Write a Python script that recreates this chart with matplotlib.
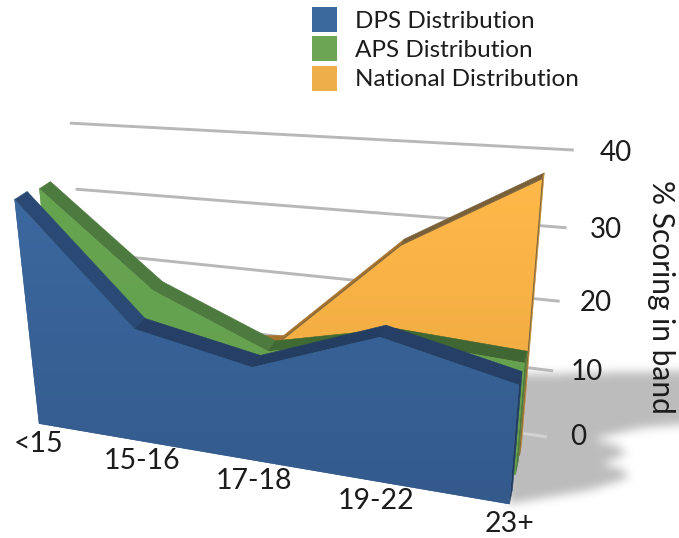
import numpy as np
import matplotlib
matplotlib.use("Agg")
import matplotlib.pyplot as plt
from matplotlib.patches import Patch, Polygon
from matplotlib.path import Path
from matplotlib.transforms import Transform

# Score bands and the share of students in each band
bands = ["<15", "15-16", "17-18", "19-22", "23+"]
dps_share = [34.2, 17.3, 14.0, 20.5, 16.5]
aps_share = [33.5, 20.0, 13.0, 17.0, 16.0]
national_share = [8.0, 10.0, 12.0, 28.0, 38.0]
value_ticks = [0, 10, 20, 30, 40]
series_names = ["DPS Distribution", "APS Distribution", "National Distribution"]

plt.rcParams["font.family"] = ["Lato", "DejaVu Sans"]
TEXT = "#1c1c1c"

# Camera calibration: (band, value, depth) -> canvas position
camera_refs = [
    (0, 0, 0, 40, 423), (1, 0, 0, 142, 441), (2, 0, 0, 253, 460),
    (3, 0, 0, 376, 482), (4, 0, 0, 510, 505),
    (0, 40, 1, 70, 122), (0, 0, 1, 91, 372),
    (4, 40, 1, 548, 150), (4, 0, 1, 524, 430),
    (4, 0, 0.67, 520, 457),
]


def fit_camera(refs):
    rows = []
    for x, v, d, u, w in refs:
        p = [x, v, d, 1.0]
        rows.append(p + [0, 0, 0, 0] + [-u * c for c in p])
        rows.append([0, 0, 0, 0] + p + [-w * c for c in p])
    return np.linalg.svd(np.array(rows, float))[2][-1].reshape(3, 4)


CAMERA = fit_camera(camera_refs)


def project(x, v, d):
    x, v, d = np.broadcast_arrays(np.asarray(x, float), np.asarray(v, float), np.asarray(d, float))
    h = CAMERA @ np.stack([x, v, d, np.ones_like(x)])
    return np.column_stack([h[0] / h[2], h[1] / h[2]])


class DepthPlane(Transform):
    """Maps (band, value) on a plane of constant depth to canvas coordinates."""
    input_dims = 2
    output_dims = 2

    def __init__(self, plane_depth):
        super().__init__()
        self.plane_depth = plane_depth

    def transform_non_affine(self, values):
        values = np.asarray(values, float)
        return project(values[:, 0], values[:, 1], self.plane_depth)


fig = plt.figure(figsize=(6.79, 5.38), dpi=100, facecolor="white")
ax = fig.add_axes([0, 0, 1, 1])
ax.set_xlim(0, 679)
ax.set_ylim(538, 0)
ax.axis("off")
ax.set_autoscale_on(False)


def blurred_shadow(outline, colour=(0.74, 0.74, 0.74), radius=4, passes=3):
    xx, yy = np.meshgrid(np.arange(-40, 720) + 0.5, np.arange(-40, 580) + 0.5)
    inside = Path(outline).contains_points(np.column_stack([xx.ravel(), yy.ravel()]))
    mask = inside.reshape(xx.shape).astype(float)
    kernel = np.ones(2 * radius + 1) / (2 * radius + 1)
    for _ in range(passes):
        mask = np.apply_along_axis(np.convolve, 0, mask, kernel, mode="same")
        mask = np.apply_along_axis(np.convolve, 1, mask, kernel, mode="same")
    rgba = np.zeros(mask.shape + (4,))
    rgba[..., :3] = colour
    rgba[..., 3] = np.clip(mask, 0, 1)
    ax.imshow(rgba, extent=(-40, 720, 580, -40), zorder=1, interpolation="bilinear", aspect="auto")


# Soft shadow cast on the ground to the right of the chart
blurred_shadow([
    (500, 375), (720, 370), (720, 421), (640, 428), (594, 439), (620, 447), (626, 454),
    (602, 464), (624, 470), (628, 478), (590, 490), (508, 504),
])

# Value gridlines on the back wall, carried past the last band to the tick labels
GRID_END = 4.18
for tick in value_ticks:
    colour = "#d2d2d2" if tick == 0 else "#b8b8b8"
    ax.plot([0, GRID_END], [tick, tick], transform=DepthPlane(1.0) + ax.transData,
            color=colour, lw=2.1, zorder=2, solid_capstyle="butt")
    ax.annotate(str(tick), xy=project(GRID_END, tick, 1.0)[0],
                xytext=(31 + 0.27 * tick, -0.08 * tick),
                textcoords="offset pixels", ha="center", va="center",
                fontsize=20, color=TEXT, zorder=40)


def draw_series(values, front, back, top_colour, bottom_colour, strip_colours, side_colour,
                edge, z):
    xs = np.arange(len(values), dtype=float)
    values = np.asarray(values, float)
    plane = DepthPlane(front) + ax.transData
    for i in range(len(values) - 1):
        quad = np.vstack([project(xs[i:i + 2], values[i:i + 2], front),
                          project(xs[i:i + 2][::-1], values[i:i + 2][::-1], back)])
        ax.fill(quad[:, 0], quad[:, 1], color=strip_colours[i], lw=0.4, zorder=z)
    side = np.vstack([project([4, 4], [0, values[-1]], front),
                      project([4, 4], [values[-1], 0], back)])
    ax.fill(side[:, 0], side[:, 1], color=side_colour, lw=0.4, zorder=z + 0.1)
    outline = np.column_stack([np.r_[xs, xs[-1], xs[0]], np.r_[values, 0, 0]])
    face = Polygon(outline, closed=True, facecolor=bottom_colour, edgecolor="none",
                   transform=plane, zorder=z + 0.2)
    ax.add_patch(face)
    corners = project(outline[:, 0], outline[:, 1], front)
    gradient = np.linspace(0, 1, 256)[:, None, None]
    c0 = np.array(matplotlib.colors.to_rgb(top_colour))
    c1 = np.array(matplotlib.colors.to_rgb(bottom_colour))
    image = ax.imshow(np.clip(c0 + (c1 - c0) * gradient, 0, 1),
                      extent=(corners[:, 0].min(), corners[:, 0].max(),
                              corners[:, 1].max(), corners[:, 1].min()),
                      zorder=z + 0.3, aspect="auto")
    image.set_clip_path(face)
    if edge:
        ax.add_patch(Polygon(outline, closed=True, facecolor="none", edgecolor=edge, lw=0.7,
                             transform=plane, zorder=z + 0.4))


# Rows are painted from the back of the chart to the front
draw_series(national_share, 0.67, 0.80, "#ffb84a", "#eca83f",
            ["#a4722c", "#a4722c", "#a4722c", "#7a6039"], "#c08a34", "#7a6440", 10)
draw_series(aps_share, 0.39, 0.58, "#67a450", "#64a04e",
            ["#4d7a3e", "#4d7a3e", "#3f6a33", "#3f6633"], "#4d7a3e", None, 20)
draw_series(dps_share, 0.0, 0.2, "#3b689f", "#345a8c",
            ["#2a4a75", "#263f66", "#243e63", "#263f66"], "#243e63", None, 30)

ax.set_xlim(0, 679)
ax.set_ylim(538, 0)

# Band labels sit just below the front edge of the floor
for i, band in enumerate(bands):
    ax.annotate(band, xy=project(i, 0, 0)[0], xytext=(0, -20), textcoords="offset pixels",
                ha="center", va="center", fontsize=20.5, color=TEXT, zorder=40)

ax.text(661, 297, "% Scoring in band", rotation=-90, ha="center", va="center",
        fontsize=21.5, color=TEXT, zorder=40)

legend_colours = ["#3a699e", "#6ca655", "#eeae4a"]
handles = [Patch(facecolor=c, edgecolor="none") for c in legend_colours]
ax.legend(handles, series_names, loc="upper left", bbox_to_anchor=(312, 7),
          bbox_transform=ax.transData, frameon=False, fontsize=17.5, borderpad=0,
          borderaxespad=0, handlelength=1.03, handleheight=1.206, labelspacing=0.18,
          handletextpad=0.74, labelcolor=TEXT)

fig.savefig("out.png", dpi=100)
